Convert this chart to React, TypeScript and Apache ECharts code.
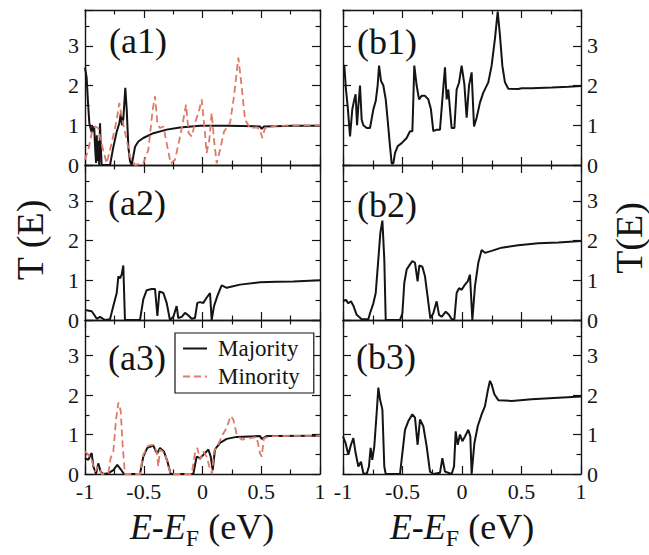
import React, { useEffect, useRef } from "react";
import * as echarts from "echarts";

const FONT = "'Liberation Serif'";
const INK = "#141414";
const RED = "#e07a68";

// Energy axis ticks (eV) and transmission ticks
const X_MIN = -1;
const X_MAX = 1;
const X_STEP = 0.5;
const Y_MIN = 0;
const Y_MAX = 3.9;
const Y_STEP = 1;

const seriesNames = ["Majority", "Minority"];
const panelNames = ["(a1)", "(b1)", "(a2)", "(b2)", "(a3)", "(b3)"];

// ---- data: [E - E_F (eV), T(E)] ----
const a1Majority = [
  [-1.0, 2.45], [-0.986, 2.2], [-0.975, 1.6], [-0.963, 1.05], [-0.955, 0.95], [-0.943, 0.82],
  [-0.936, 0.98], [-0.929, 0.85], [-0.922, 0.97], [-0.915, 0.5], [-0.906, 0.05], [-0.9, 0.75],
  [-0.895, 0.1], [-0.887, 0.6], [-0.879, 0.0], [-0.872, 1.05], [-0.865, 0.4], [-0.858, 0.0],
  [-0.787, 0.0], [-0.759, 0.45], [-0.73, 0.84], [-0.708, 1.05], [-0.695, 1.3], [-0.685, 1.0],
  [-0.674, 1.15], [-0.657, 1.94], [-0.645, 1.4], [-0.631, 0.45], [-0.617, 0.1], [-0.603, 0.0],
  [-0.59, 0.2], [-0.574, 0.46], [-0.546, 0.59], [-0.504, 0.68], [-0.418, 0.8], [-0.305, 0.89],
  [-0.191, 0.945], [-0.021, 0.99], [0.206, 0.99], [0.489, 0.97], [0.504, 0.91], [0.523, 0.97],
  [0.773, 0.99], [1.0, 0.99],
];
const a1Minority = [
  [-1.0, 0.14], [-0.972, 0.38], [-0.943, 0.8], [-0.915, 0.97], [-0.887, 0.93], [-0.867, 0.63],
  [-0.816, 0.04], [-0.773, 0.55], [-0.73, 1.14], [-0.708, 1.56], [-0.688, 1.22], [-0.668, 0.93],
  [-0.645, 0.63], [-0.617, 0.21], [-0.574, 0.0], [-0.504, 0.04], [-0.461, 0.38], [-0.424, 1.39],
  [-0.404, 1.73], [-0.384, 1.05], [-0.362, 0.93], [-0.333, 0.97], [-0.305, 0.55], [-0.271, 0.04],
  [-0.234, 0.13], [-0.197, 0.63], [-0.163, 1.14], [-0.14, 1.52], [-0.118, 0.8], [-0.092, 0.72],
  [-0.064, 1.05], [-0.027, 1.39], [-0.007, 1.65], [0.016, 0.97], [0.035, 0.3], [0.058, 0.63],
  [0.078, 1.31], [0.098, 0.63], [0.121, 0.04], [0.149, 0.38], [0.183, 0.84], [0.234, 1.05],
  [0.268, 1.73], [0.305, 2.7], [0.333, 1.98], [0.362, 1.14], [0.404, 0.93], [0.461, 0.95],
  [0.489, 0.89], [0.509, 0.68], [0.532, 0.93], [0.631, 0.99], [1.0, 1.0],
];
const a2Majority = [
  [-1.0, 0.25], [-0.943, 0.22], [-0.915, 0.1], [-0.9, 0.03], [-0.872, 0.08], [-0.83, 0.0],
  [-0.787, 0.02], [-0.759, 0.35], [-0.73, 0.68], [-0.716, 1.1], [-0.702, 1.05], [-0.688, 1.14],
  [-0.674, 1.37], [-0.66, 0.0], [-0.532, 0.0], [-0.504, 0.52], [-0.475, 0.75], [-0.433, 0.78],
  [-0.404, 0.78], [-0.384, 0.1], [-0.367, 0.72], [-0.333, 0.68], [-0.305, 0.43], [-0.277, 0.0],
  [-0.248, 0.08], [-0.22, 0.35], [-0.206, 0.05], [-0.177, 0.08], [-0.149, 0.18], [-0.121, 0.12],
  [-0.092, 0.03], [-0.064, 0.05], [-0.044, 0.43], [-0.021, 0.45], [0.007, 0.43], [0.035, 0.56],
  [0.064, 0.68], [0.078, 0.0], [0.098, 0.35], [0.126, 0.6], [0.163, 0.87], [0.206, 0.81],
  [0.319, 0.89], [0.489, 0.95], [0.631, 0.96], [0.773, 0.97], [1.0, 1.0],
];
const a3Majority = [
  [-1.0, 0.4], [-0.972, 0.36], [-0.943, 0.53], [-0.929, 0.19], [-0.906, 0.0], [-0.887, 0.27],
  [-0.867, 0.06], [-0.844, 0.0], [-0.801, 0.02], [-0.759, 0.1], [-0.725, 0.23], [-0.696, 0.12],
  [-0.668, 0.0], [-0.532, 0.0], [-0.504, 0.44], [-0.47, 0.66], [-0.418, 0.72], [-0.396, 0.57],
  [-0.384, 0.53], [-0.362, 0.66], [-0.328, 0.57], [-0.299, 0.32], [-0.271, 0.0], [-0.078, 0.0],
  [-0.05, 0.44], [-0.021, 0.4], [0.021, 0.53], [0.05, 0.62], [0.07, 0.44], [0.087, 0.1],
  [0.106, 0.62], [0.149, 0.79], [0.206, 0.89], [0.291, 0.94], [0.489, 0.96], [0.504, 0.89],
  [0.546, 0.96], [1.0, 0.97],
];
const a3Minority = [
  [-1.0, 0.57], [-0.972, 0.49], [-0.943, 0.36], [-0.915, 0.06], [-0.887, 0.19], [-0.858, 0.0],
  [-0.801, 0.02], [-0.782, 0.4], [-0.759, 0.57], [-0.736, 1.38], [-0.716, 1.81], [-0.696, 1.6],
  [-0.679, 0.7], [-0.66, 0.0], [-0.532, 0.0], [-0.504, 0.49], [-0.461, 0.72], [-0.418, 0.74],
  [-0.39, 0.57], [-0.376, 0.19], [-0.362, 0.62], [-0.319, 0.53], [-0.291, 0.19], [-0.271, 0.0],
  [-0.092, 0.0], [-0.064, 0.53], [-0.044, 0.66], [-0.021, 0.36], [0.007, 0.57], [0.035, 0.44],
  [0.058, 0.19], [0.081, 0.0], [0.098, 0.57], [0.126, 0.7], [0.172, 1.0], [0.206, 1.17],
  [0.24, 1.47], [0.262, 1.38], [0.291, 1.0], [0.333, 0.87], [0.404, 0.91], [0.461, 0.94],
  [0.489, 0.53], [0.504, 0.44], [0.523, 0.91], [0.603, 0.96], [1.0, 0.97],
];
const b1Majority = [
  [-1.0, 2.5], [-0.989, 2.5], [-0.975, 1.9], [-0.961, 1.48], [-0.941, 0.72], [-0.922, 1.4],
  [-0.905, 1.65], [-0.894, 1.78], [-0.882, 1.0], [-0.871, 1.48], [-0.857, 2.0], [-0.843, 1.14],
  [-0.829, 1.0], [-0.801, 0.93], [-0.773, 0.93], [-0.745, 1.4], [-0.725, 1.61], [-0.709, 2.0],
  [-0.697, 2.5], [-0.681, 2.12], [-0.661, 2.0], [-0.641, 1.65], [-0.625, 1.14], [-0.605, 0.47],
  [-0.591, 0.04], [-0.577, 0.04], [-0.563, 0.3], [-0.541, 0.47], [-0.507, 0.55], [-0.465, 0.68],
  [-0.437, 0.85], [-0.417, 0.85], [-0.409, 1.65], [-0.401, 2.5], [-0.381, 2.0], [-0.361, 1.65],
  [-0.339, 1.74], [-0.311, 1.74], [-0.283, 1.65], [-0.261, 1.4], [-0.241, 0.85], [-0.213, 0.89],
  [-0.185, 0.89], [-0.165, 1.65], [-0.143, 2.46], [-0.129, 1.65], [-0.115, 1.9], [-0.101, 1.4],
  [-0.087, 0.93], [-0.064, 0.93], [-0.045, 1.9], [-0.025, 2.07], [-0.003, 2.5], [0.02, 2.03],
  [0.039, 1.19], [0.059, 2.0], [0.081, 2.33], [0.101, 0.97], [0.123, 1.19], [0.151, 1.57],
  [0.179, 1.82], [0.221, 2.08], [0.249, 2.5], [0.277, 3.18], [0.3, 3.86], [0.319, 3.26],
  [0.339, 2.5], [0.361, 2.08], [0.389, 1.92], [0.473, 1.91], [0.501, 1.93], [0.585, 1.93],
  [0.754, 1.95], [0.894, 1.97], [1.0, 1.99],
];
const b2Majority = [
  [-1.0, 0.47], [-0.978, 0.51], [-0.955, 0.42], [-0.933, 0.47], [-0.913, 0.36], [-0.885, 0.13],
  [-0.866, 0.08], [-0.843, 0.02], [-0.787, 0.02], [-0.773, 0.17], [-0.745, 0.42], [-0.725, 0.68],
  [-0.703, 1.53], [-0.686, 2.2], [-0.669, 2.5], [-0.653, 1.53], [-0.641, 0.0], [-0.521, 0.0],
  [-0.501, 0.17], [-0.485, 0.93], [-0.465, 1.27], [-0.437, 1.4], [-0.417, 1.48], [-0.395, 1.44],
  [-0.373, 0.97], [-0.359, 1.37], [-0.333, 1.34], [-0.311, 1.1], [-0.289, 0.59], [-0.266, 0.04],
  [-0.241, 0.17], [-0.213, 0.47], [-0.193, 0.13], [-0.171, 0.08], [-0.137, 0.21], [-0.109, 0.13],
  [-0.087, 0.02], [-0.064, 0.02], [-0.045, 0.68], [-0.025, 0.8], [-0.003, 0.76], [0.025, 0.89],
  [0.048, 0.97], [0.067, 1.14], [0.087, 0.0], [0.109, 0.85], [0.137, 1.44], [0.165, 1.76],
  [0.193, 1.69], [0.249, 1.74], [0.333, 1.82], [0.473, 1.88], [0.641, 1.93], [0.81, 1.95],
  [1.0, 1.99],
];
const b3Majority = [
  [-1.0, 0.95], [-0.978, 0.78], [-0.955, 0.49], [-0.933, 0.74], [-0.913, 0.91], [-0.894, 0.53],
  [-0.871, 0.19], [-0.849, 0.31], [-0.829, 0.02], [-0.801, 0.0], [-0.782, 0.19], [-0.768, 0.66],
  [-0.754, 0.36], [-0.737, 0.7], [-0.717, 1.55], [-0.703, 2.19], [-0.689, 1.89], [-0.669, 1.63],
  [-0.653, 0.19], [-0.641, 0.0], [-0.521, 0.0], [-0.501, 0.53], [-0.479, 1.12], [-0.451, 1.34],
  [-0.417, 1.51], [-0.395, 1.43], [-0.373, 0.74], [-0.353, 1.38], [-0.325, 1.21], [-0.297, 0.7],
  [-0.269, 0.06], [-0.241, 0.0], [-0.185, 0.03], [-0.165, 0.4], [-0.143, 0.06], [-0.087, 0.0],
  [-0.067, 0.19], [-0.053, 1.08], [-0.036, 0.74], [-0.017, 1.0], [0.003, 0.83], [0.025, 0.95],
  [0.053, 1.12], [0.07, 0.95], [0.081, 0.0], [0.104, 0.78], [0.132, 1.21], [0.165, 1.51],
  [0.193, 1.72], [0.216, 2.1], [0.235, 2.36], [0.249, 2.27], [0.272, 2.02], [0.305, 1.87],
  [0.417, 1.85], [0.585, 1.89], [0.81, 1.93], [1.0, 1.96],
];

// panel order: a1, b1, a2, b2, a3, b3
const panelData = [
  [a1Majority, a1Minority],
  [b1Majority],
  [a2Majority],
  [b2Majority],
  [a3Majority, a3Minority],
  [b3Majority],
];

// layout (pixels)
const COL_LEFT = [85, 343];
const COL_WIDTH = [235, 238];
const ROW_TOP = [10, 165, 320];
const ROW_HEIGHT = [155, 155, 154];
const LABEL_POS = [
  [109, 41], [357, 42], [108, 203], [357, 205], [108, 358], [356, 357],
];

export default function App() {
  const ref = useRef<HTMLDivElement>(null);

  useEffect(() => {
    if (!ref.current) return;
    const chart = echarts.init(ref.current, undefined, { renderer: "svg" });

    const lineAxis = { onZero: false, lineStyle: { color: INK, width: 1.4 } };
    const tick = { inside: true, length: 8, lineStyle: { color: INK, width: 1.2 } };
    const minor = { show: true, splitNumber: 2, length: 4.5, lineStyle: { color: INK, width: 1.2 } };
    const labelBase = { fontFamily: FONT, fontSize: 22, color: INK };

    const grids: any[] = [];
    const xAxes: any[] = [];
    const yAxes: any[] = [];
    const series: any[] = [];

    panelData.forEach((lines, i) => {
      const row = Math.floor(i / 2);
      const col = i % 2;
      grids.push({
        left: COL_LEFT[col],
        top: ROW_TOP[row],
        width: COL_WIDTH[col],
        height: ROW_HEIGHT[row],
        containLabel: false,
        outerBoundsMode: "none",
      });
      ["bottom", "top"].forEach((pos) => {
        xAxes.push({
          type: "value",
          gridIndex: i,
          position: pos,
          min: X_MIN,
          max: X_MAX,
          interval: X_STEP,
          axisLine: lineAxis,
          axisTick: tick,
          minorTick: minor,
          splitLine: { show: false },
          axisLabel: { ...labelBase, show: pos === "bottom" && row === 2, margin: 6 },
        });
      });
      ["left", "right"].forEach((pos) => {
        const showLab = (col === 0 && pos === "left") || (col === 1 && pos === "right");
        yAxes.push({
          type: "value",
          gridIndex: i,
          position: pos,
          min: Y_MIN,
          max: Y_MAX,
          interval: Y_STEP,
          axisLine: lineAxis,
          axisTick: tick,
          minorTick: minor,
          splitLine: { show: false },
          axisLabel: { ...labelBase, show: showLab, margin: 6, showMaxLabel: false },
        });
      });
      lines.forEach((data, k) => {
        series.push({
          type: "line",
          name: seriesNames[k],
          xAxisIndex: 2 * i,
          yAxisIndex: 2 * i,
          data,
          symbol: "none",
          showSymbol: false,
          clip: true,
          z: k === 1 ? 3 : 2,
          itemStyle: { color: k === 0 ? INK : RED },
          lineStyle: k === 0
            ? { color: INK, width: 2 }
            : { color: RED, width: 1.8, type: [7, 4] },
        });
      });
    });

    const titleRich = {
      i: { fontFamily: FONT, fontSize: 36, fontStyle: "italic", fill: INK, color: INK },
      s: { fontFamily: FONT, fontSize: 24, fill: INK, color: INK, padding: [22, 0, 0, 0] },
      n: { fontFamily: FONT, fontSize: 36, fill: INK, color: INK },
    };
    const xTitle = (x: number) => ({
      type: "text",
      x,
      y: 527,
      style: {
        text: "{i|E-E}{s|F}{n| (eV)}",
        rich: titleRich,
        fontFamily: FONT,
        align: "center",
        verticalAlign: "middle",
        fill: INK,
      },
    });

    const graphic: any[] = [
      ...panelNames.map((t, i) => ({
        type: "text",
        x: LABEL_POS[i][0],
        y: LABEL_POS[i][1],
        style: {
          text: t,
          fontFamily: FONT,
          fontSize: 36,
          fill: INK,
          verticalAlign: "middle",
        },
      })),
      {
        type: "text",
        x: 30,
        y: 240,
        rotation: Math.PI / 2,
        style: { text: "T (E)", fontFamily: FONT, fontSize: 38, fill: INK, align: "center", verticalAlign: "middle" },
      },
      {
        type: "text",
        x: 629,
        y: 238,
        rotation: Math.PI / 2,
        style: { text: "T(E)", fontFamily: FONT, fontSize: 38, fill: INK, align: "center", verticalAlign: "middle" },
      },
      xTitle(202),
      xTitle(462),
    ];

    chart.setOption({
      animation: false,
      backgroundColor: "#ffffff",
      textStyle: { fontFamily: FONT },
      grid: grids,
      xAxis: xAxes,
      yAxis: yAxes,
      series,
      legend: {
        data: seriesNames,
        orient: "vertical",
        left: 175,
        top: 333,
        backgroundColor: "#ffffff",
        borderColor: INK,
        borderWidth: 1.2,
        borderRadius: 0,
        padding: [4, 14, 5, 7],
        itemGap: 5,
        itemWidth: 24,
        itemHeight: 14,
        selectedMode: false,
        itemStyle: { opacity: 0 },
        textStyle: { fontFamily: FONT, fontSize: 23, color: INK, padding: [0, 0, 0, 6] },
      },
      graphic,
    });

    return () => chart.dispose();
  }, []);

  return (
    <div
      ref={ref}
      style={{ position: "fixed", left: 0, top: 0, width: 649, height: 555, background: "#fff" }}
    />
  );
}
